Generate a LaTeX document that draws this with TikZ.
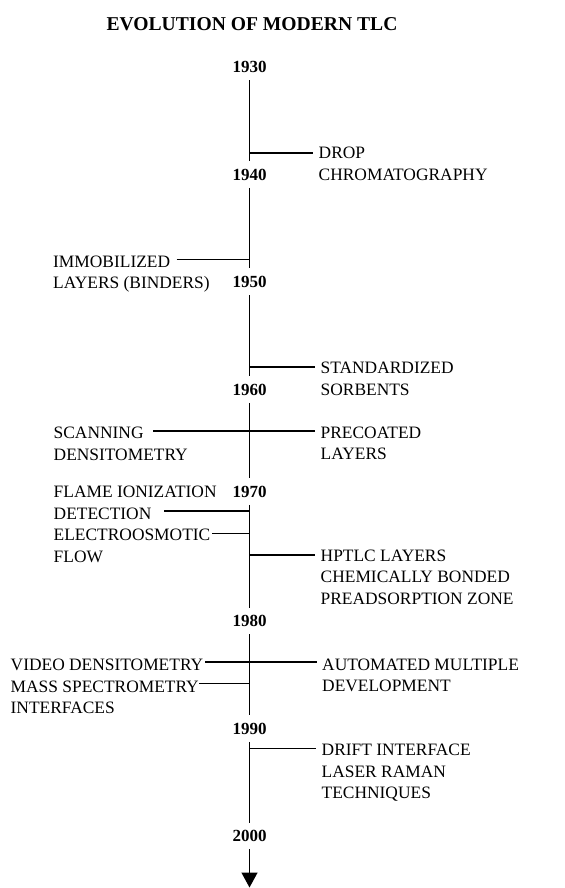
\documentclass[tikz,border=0pt]{standalone}
\usepackage{fontspec}
\setmainfont{Liberation Serif}
\usetikzlibrary{arrows.meta}

\begin{document}
\begin{tikzpicture}[x=0.5pt,y=-0.5pt,line width=0.7pt,
    year/.style={font=\fontsize{8.5}{10}\selectfont\bfseries,inner sep=3.5pt,anchor=base},
    event/.style={font=\fontsize{8.7}{10.8}\selectfont,align=left,inner xsep=2.5pt,inner ysep=0pt,anchor=north west}]
                \useasboundingbox (0,0) rectangle (565,888);
                \node[font=\fontsize{9.8}{12}\selectfont\bfseries,anchor=base] (title) at (252,30.5) {EVOLUTION OF MODERN TLC};
                \node[year] (y1930) at (249.5,72.5) {1930};
                \node[year] (y1940) at (249.5,180) {1940};
                \node[year] (y1950) at (249.5,287.5) {1950};
                \node[year] (y1960) at (249.5,395) {1960};
                \node[year] (y1970) at (249.5,497) {1970};
                \node[year] (y1980) at (249.5,626.5) {1980};
                \node[year] (y1990) at (249.5,734) {1990};
                \node[year] (y2000) at (249.5,841.5) {2000};
                \coordinate (tip) at (249.5,887.5);
                \foreach \a/\b in {y1930/y1940,y1940/y1950,y1950/y1960,y1960/y1970,y1970/y1980,y1980/y1990,y1990/y2000}
                    \draw (\a)--(\b);
                \draw [-{Triangle[width=8pt,length=7.5pt]}](y2000)--(tip);
                \coordinate (b1940) at (249.5,153);
                \coordinate (b1948) at (249.5,259.5);
                \coordinate (b1958) at (249.5,367);
                \coordinate (b1964) at (249.5,431);
                \coordinate (b1971) at (249.5,511);
                \coordinate (b1973) at (249.5,533.5);
                \coordinate (b1975) at (249.5,555);
                \coordinate (b1984) at (249.5,662);
                \coordinate (b1986) at (249.5,683.5);
                \coordinate (b1992) at (249.5,748.5);
                \node[event] (drop) at (313,146.5) {DROP\\CHROMATOGRAPHY};
                \node[event] (sorb) at (315,361.5) {STANDARDIZED\\SORBENTS};
                \node[event] (precoat) at (315,426) {PRECOATED\\LAYERS};
                \node[event] (hptlc) at (315,549) {HPTLC LAYERS\\CHEMICALLY BONDED\\PREADSORPTION ZONE};
                \node[event] (amd) at (316.5,658) {AUTOMATED MULTIPLE\\DEVELOPMENT};
                \node[event] (drift) at (316,743.5) {DRIFT INTERFACE\\LASER RAMAN\\TECHNIQUES};
                \node[event] (immob) at (47.5,255) {IMMOBILIZED\\LAYERS (BINDERS)};
                \node[event] (scan) at (48,426.5) {SCANNING\\DENSITOMETRY};
                \node[event] (flame) at (48,485.5) {FLAME IONIZATION\\DETECTION};
                \node[event] (eof) at (48,528.5) {ELECTROOSMOTIC\\FLOW};
                \node[event] (video) at (5,658) {VIDEO DENSITOMETRY};
                \node[event] (mass) at (5,680) {MASS SPECTROMETRY\\INTERFACES};
                \coordinate (e1948) at (176.5,259.5);
                \coordinate (e1964) at (153,431);
                \coordinate (e1971) at (164,511);
                \coordinate (e1973) at (212,533.5);
                \coordinate (e1984) at (205,662);
                \coordinate (e1986) at (199,683.5);
                \draw (b1940)--(b1940-|drop.west);
                \draw (b1958)--(b1958-|sorb.west);
                \draw (e1964)--(b1964)--(b1964-|precoat.west);
                \draw (b1975)--(b1975-|hptlc.west);
                \draw (e1984)--(b1984)--(b1984-|amd.west);
                \draw (b1992)--(b1992-|drift.west);
                \draw (e1948)--(b1948);
                \draw (e1971)--(b1971);
                \draw (e1973)--(b1973);
                \draw (e1986)--(b1986);
\end{tikzpicture}
\end{document}
